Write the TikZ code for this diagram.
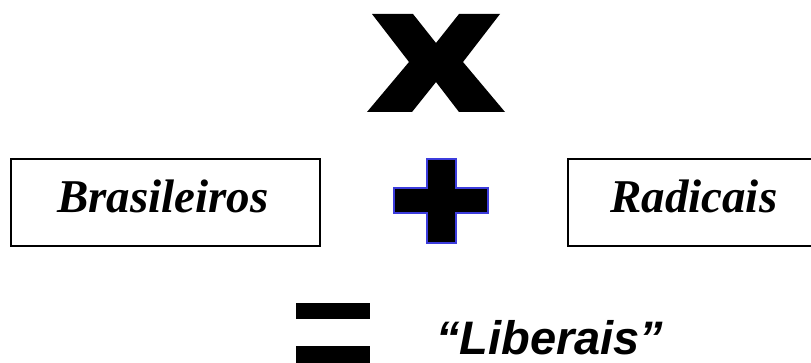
\documentclass[tikz,border=0pt]{standalone}
\usepackage{fontspec}
\setmainfont{Liberation Serif}
\newfontfamily\lsans{Liberation Sans}
\begin{document}
\begin{tikzpicture}[x=1pt,y=-1pt,
  wordbox/.style={draw=black,line width=2pt},
  serifword/.style={inner sep=0pt,anchor=base west,font=\fontsize{47}{51}\selectfont\bfseries\itshape},
  sansword/.style={inner sep=0pt,anchor=base west,text depth=0pt,font=\lsans\fontsize{47}{51}\selectfont\bfseries\itshape},
  plusmark/.style={fill=black,draw={rgb,255:red,60;green,60;blue,220},line width=2pt,line join=miter},
]
\useasboundingbox (0,0) rectangle (811,363);
% times sign
\fill[black] (372,14) -- (413,14) -- (436,43) -- (459,14) -- (500,14) -- (463,62)
  -- (505,112) -- (459,112) -- (436,82) -- (412,112) -- (367,112) -- (409,62) -- cycle;
% boxes
\draw[wordbox] (11,159) rectangle (320,246);
\draw[wordbox] (568,159) rectangle (815,246);
\node[serifword] (bras) at (57,213) {Brasileiros};
\node[serifword] (rad) at (610,213) {Radicais};
% plus sign
\draw[plusmark] (427,159) -- (456,159) -- (456,188) -- (488,188) -- (488,213) -- (456,213)
  -- (456,243) -- (427,243) -- (427,213) -- (394,213) -- (394,188) -- (427,188) -- cycle;
% equals sign
\fill[black] (296,303) rectangle (370,319);
\fill[black] (296,346) rectangle (370,363);
\node[sansword] (lib) at (436,354) {“Liberais”};
\end{tikzpicture}
\end{document}
